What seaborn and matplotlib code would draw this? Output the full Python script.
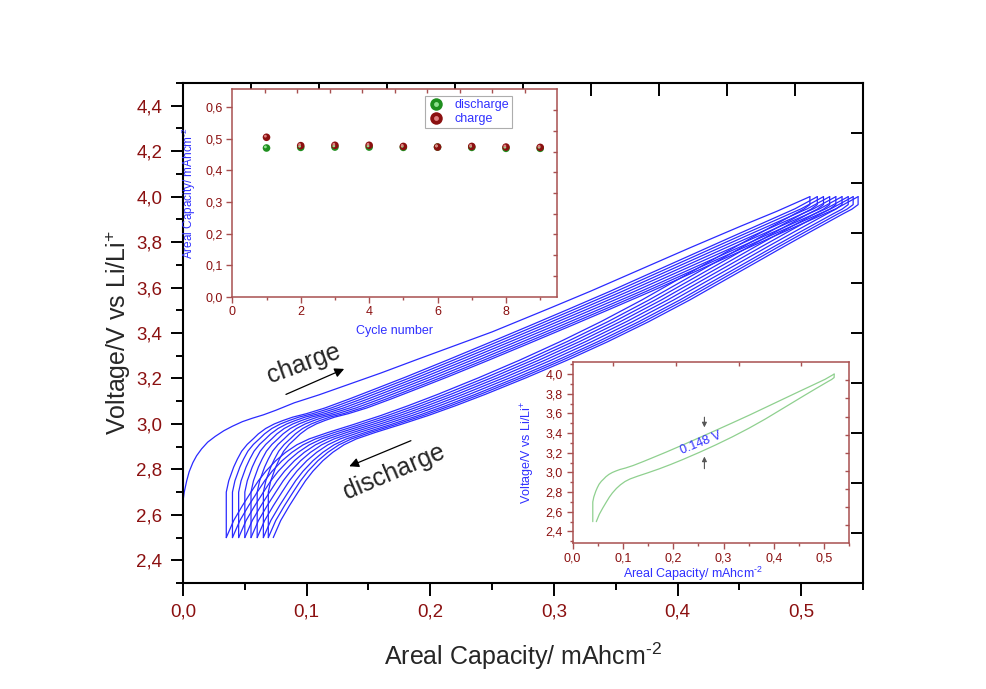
import numpy as np
import pandas as pd
import matplotlib
matplotlib.use("Agg")
import matplotlib.pyplot as plt
from matplotlib.ticker import FuncFormatter, MultipleLocator, FixedLocator, NullFormatter
from matplotlib.transforms import offset_copy
from matplotlib.legend_handler import HandlerTuple
import seaborn as sns

# ---------------- data ----------------
# cycle 1 charge (main plot), capacity / voltage
cyc1_cap = [0.000, 0.001, 0.003, 0.005, 0.008, 0.011, 0.015, 0.020, 0.026, 0.033, 0.040,
            0.048, 0.056, 0.065, 0.075, 0.090, 0.110, 0.135, 0.160, 0.190, 0.216, 0.250,
            0.297, 0.330, 0.370, 0.410, 0.451, 0.480, 0.507]
cyc1_volt = [2.66, 2.70, 2.75, 2.79, 2.83, 2.86, 2.89, 2.92, 2.945, 2.97, 2.99,
             3.01, 3.025, 3.04, 3.06, 3.093, 3.128, 3.176, 3.224, 3.285, 3.337, 3.405,
             3.51, 3.585, 3.68, 3.775, 3.87, 3.935, 4.00]

# charge curve shape (capacity from start of charge, cycles 2-9)
chg_cap = [0.000, 0.000, 0.002, 0.004, 0.006, 0.009, 0.0125, 0.017, 0.022, 0.026, 0.032,
           0.039, 0.046, 0.054, 0.065, 0.080, 0.100, 0.120, 0.146, 0.180, 0.212, 0.245,
           0.278, 0.311, 0.344, 0.377, 0.410, 0.440, 0.462, 0.480]
chg_volt = [2.50, 2.70, 2.75, 2.78, 2.81, 2.845, 2.88, 2.91, 2.935, 2.956, 2.98,
            3.00, 3.015, 3.03, 3.045, 3.07, 3.11, 3.152, 3.207, 3.282, 3.354, 3.429,
            3.505, 3.582, 3.662, 3.742, 3.822, 3.894, 3.947, 4.00]

# discharge curve shape (capacity removed from top of charge)
dis_cap = [0.000, 0.000, 0.005, 0.012, 0.022, 0.037, 0.060, 0.080, 0.103, 0.136, 0.169,
           0.202, 0.235, 0.268, 0.301, 0.325, 0.347, 0.370, 0.390, 0.405, 0.415, 0.424,
           0.432, 0.440, 0.446, 0.452, 0.459, 0.466, 0.472]
dis_volt = [4.00, 3.965, 3.945, 3.925, 3.895, 3.85, 3.78, 3.718, 3.647, 3.545, 3.45,
            3.362, 3.28, 3.203, 3.13, 3.08, 3.037, 2.996, 2.962, 2.934, 2.908, 2.875,
            2.838, 2.792, 2.75, 2.70, 2.64, 2.575, 2.50]

# per-cycle positions on the capacity axis
charge_start = [0.000, 0.035, 0.040, 0.045, 0.050, 0.055, 0.060, 0.065, 0.069]
charge_top = [0.507, 0.513, 0.518, 0.523, 0.528, 0.533, 0.538, 0.542, 0.546]
discharge_end = [0.035, 0.040, 0.045, 0.050, 0.055, 0.060, 0.065, 0.069, 0.073]

# inset: capacity vs cycle number
cycles = [1, 2, 3, 4, 5, 6, 7, 8, 9]
cap_charge = [0.505, 0.4785, 0.4796, 0.4796, 0.476, 0.474, 0.476, 0.474, 0.473]
cap_discharge = [0.471, 0.473, 0.474, 0.474, 0.473, 0.474, 0.473, 0.470, 0.470]

# inset: single cycle
single_start, single_top, single_end = 0.040, 0.520, 0.047

# ---------------- style ----------------
sns.set_style("ticks")
plt.rcParams["font.family"] = ["Liberation Sans", "DejaVu Sans"]
plt.rcParams["mathtext.fontset"] = "custom"
plt.rcParams["mathtext.rm"] = "Liberation Sans"
plt.rcParams["mathtext.default"] = "regular"

BLUE = "#2a2aff"
TICKRED = "#8b1010"
SPINERED = "#a85050"
LABELBLUE = "#3030ff"
SUP2 = "$^{\u2010 2}$"

comma1 = FuncFormatter(lambda v, p: f"{v:.1f}".replace(".", ","))


def mirror_ticks(a, xpos, ypos, color, length, width):
    sx = a.secondary_xaxis("top")
    sx.xaxis.set_major_locator(FixedLocator(xpos))
    sx.xaxis.set_major_formatter(NullFormatter())
    sx.tick_params(direction="in", length=length, width=width, color=color)
    sx.spines["top"].set_visible(False)
    sy = a.secondary_yaxis("right")
    sy.yaxis.set_major_locator(FixedLocator(ypos))
    sy.yaxis.set_major_formatter(NullFormatter())
    sy.tick_params(direction="in", length=length, width=width, color=color)
    sy.spines["right"].set_visible(False)


def build_cycle_frame():
    rows = []
    cid = 0
    for i in range(len(charge_start)):
        s, t, e = charge_start[i], charge_top[i], discharge_end[i]
        if i == 0:
            xs, vs = cyc1_cap, cyc1_volt
        else:
            sc = (t - s) / chg_cap[-1]
            xs = [s + q * sc for q in chg_cap]
            vs = chg_volt
        for x, v in zip(xs, vs):
            rows.append((cid, x, v))
        cid += 1
        sc = (t - e) / dis_cap[-1]
        for d, v in zip(dis_cap, dis_volt):
            rows.append((cid, t - d * sc, v))
        cid += 1
    return pd.DataFrame(rows, columns=["curve", "cap", "volt"])


fig = plt.figure(figsize=(9.86, 6.89), dpi=100)
fig.patch.set_facecolor("white")

# ---------------- main axes ----------------
ax = fig.add_axes([0.1856, 0.1538, 0.6897, 0.7257])
df = build_cycle_frame()
sns.lineplot(data=df, x="cap", y="volt", units="curve", estimator=None, sort=False,
             color=BLUE, lw=0.9, ax=ax, legend=False)
ax.set_xlim(0, 0.55)
ax.set_ylim(2.3, 4.5)
ax.xaxis.set_major_locator(MultipleLocator(0.1))
ax.xaxis.set_minor_locator(MultipleLocator(0.05))
ax.yaxis.set_major_locator(FixedLocator(np.arange(2.4, 4.41, 0.2)))
ax.yaxis.set_minor_locator(MultipleLocator(0.1))
ax.xaxis.set_major_formatter(comma1)
ax.yaxis.set_major_formatter(comma1)
for sp in ax.spines.values():
    sp.set_color("black")
    sp.set_linewidth(1.5)
ax.tick_params(which="major", direction="out", length=9, width=1.4, color="black",
               labelsize=13.5, labelcolor=TICKRED, pad=6)
ax.tick_params(which="minor", direction="out", length=5, width=1.4, color="black")
mirror_ticks(ax, np.linspace(0, 0.55, 11), np.linspace(2.3, 4.5, 11), "black", 9, 1.4)
ax.set_xlabel("Areal Capacity/ mAhcm" + SUP2, fontsize=18, labelpad=14)
ax.set_ylabel("Voltage/V vs Li/Li$^{+}$", fontsize=18, labelpad=2)

# annotations
ax.text(0.098, 3.266, "charge", rotation=20, fontsize=18, ha="center", va="center")
ax.annotate("", xy=(0.1324, 3.247), xytext=(0.0812, 3.125),
            arrowprops=dict(arrowstyle="-|>", color="black", lw=0.9, mutation_scale=14))
ax.text(0.1707, 2.79, "discharge", rotation=23, fontsize=18, ha="center", va="center")
ax.annotate("", xy=(0.1324, 2.809), xytext=(0.1864, 2.931),
            arrowprops=dict(arrowstyle="-|>", color="black", lw=0.9, mutation_scale=14))

# ---------------- inset 1: capacity vs cycle ----------------
ax1 = fig.add_axes([0.2356, 0.5694, 0.3296, 0.301])
dfc = pd.DataFrame({
    "cycle": cycles + cycles,
    "capacity": cap_discharge + cap_charge,
    "kind": ["discharge"] * len(cycles) + ["charge"] * len(cycles),
})
pal = {"discharge": "#1f8f1f", "charge": "#8b1010"}
hil = {"discharge": "#8fe08f", "charge": "#e08080"}
sns.scatterplot(data=dfc, x="cycle", y="capacity", hue="kind", palette=pal, s=30,
                edgecolor="none", ax=ax1, legend=False)
hl_tr = offset_copy(ax1.transData, fig=fig, x=-0.8, y=0.8, units="points")
for kind in ["discharge", "charge"]:
    sub = dfc[dfc["kind"] == kind]
    ax1.scatter(sub["cycle"], sub["capacity"], s=4, color=hil[kind], edgecolor="none",
                transform=hl_tr, zorder=3)
ax1.set_xlim(0, 9.5)
ax1.set_ylim(0, 0.657)
ax1.xaxis.set_major_locator(MultipleLocator(2))
ax1.xaxis.set_minor_locator(MultipleLocator(1))
ax1.yaxis.set_major_locator(MultipleLocator(0.1))
ax1.xaxis.set_major_formatter(FuncFormatter(lambda v, p: f"{int(v)}"))
ax1.yaxis.set_major_formatter(comma1)
for sp in ax1.spines.values():
    sp.set_color(SPINERED)
    sp.set_linewidth(1.1)
ax1.tick_params(which="major", direction="out", length=4, width=1, color=SPINERED,
                labelsize=9, labelcolor=TICKRED, pad=3)
ax1.tick_params(which="minor", direction="out", length=2.5, width=1, color=SPINERED)
mirror_ticks(ax1, np.linspace(0, 9.5, 11)[1:-1], np.linspace(0, 0.657, 11)[1:-1],
             SPINERED, 3, 1)
ax1.set_xlabel("Cycle number", fontsize=9, color=LABELBLUE, labelpad=5)
ax1.set_ylabel("Areal Capacity/ mAhcm" + SUP2, fontsize=8.5, color=LABELBLUE, labelpad=5)
h1 = (plt.Line2D([], [], ls="none", marker="o", ms=9, mfc=pal["discharge"], mec="none"),
      plt.Line2D([], [], ls="none", marker="o", ms=3.5, mfc=hil["discharge"], mec="none"))
h2 = (plt.Line2D([], [], ls="none", marker="o", ms=9, mfc=pal["charge"], mec="none"),
      plt.Line2D([], [], ls="none", marker="o", ms=3.5, mfc=hil["charge"], mec="none"))
leg = ax1.legend([h1, h2], ["discharge", "charge"], loc="upper right",
                 bbox_to_anchor=(0.861, 0.968), borderaxespad=0, fontsize=9,
                 frameon=True, fancybox=False, edgecolor="#999999",
                 handlelength=1.2, handletextpad=0.9, borderpad=0.25, labelspacing=0.15,
                 handler_map={tuple: HandlerTuple(ndivide=1, pad=0)})
leg.get_frame().set_linewidth(0.8)
for t in leg.get_texts():
    t.set_color(LABELBLUE)

# ---------------- inset 2: single cycle ----------------
ax2 = fig.add_axes([0.5808, 0.2115, 0.2805, 0.2627])
rows = []
sc = (single_top - single_start) / chg_cap[-1]
for q, v in zip(chg_cap, chg_volt):
    rows.append(("charge", single_start + q * sc, v))
sc = (single_top - single_end) / dis_cap[-1]
for d, v in zip(dis_cap, dis_volt):
    rows.append(("discharge", single_top - d * sc, v))
dfs = pd.DataFrame(rows, columns=["seg", "cap", "volt"])
sns.lineplot(data=dfs, x="cap", y="volt", units="seg", estimator=None, sort=False,
             color="#8fd08f", lw=0.9, ax=ax2, legend=False)
ax2.set_xlim(0, 0.55)
ax2.set_ylim(2.28, 4.12)
ax2.xaxis.set_major_locator(MultipleLocator(0.1))
ax2.xaxis.set_minor_locator(MultipleLocator(0.05))
ax2.yaxis.set_major_locator(FixedLocator(np.arange(2.4, 4.01, 0.2)))
ax2.yaxis.set_minor_locator(MultipleLocator(0.1))
ax2.xaxis.set_major_formatter(comma1)
ax2.yaxis.set_major_formatter(comma1)
for sp in ax2.spines.values():
    sp.set_color(SPINERED)
    sp.set_linewidth(1.1)
ax2.tick_params(which="major", direction="out", length=4, width=1, color=SPINERED,
                labelsize=9, labelcolor=TICKRED, pad=3)
ax2.tick_params(which="minor", direction="out", length=2.5, width=1, color=SPINERED)
mirror_ticks(ax2, [0.08, 0.205, 0.33, 0.455], np.linspace(2.28, 4.12, 11)[1:-1],
             SPINERED, 3, 1)
ax2.set_xlabel("Areal Capacity/ mAhcm" + SUP2, fontsize=9, color=LABELBLUE)
ax2.xaxis.set_label_coords(0.435, -0.118)
ax2.set_ylabel("Voltage/V vs Li/Li$^{+}$", fontsize=9, color=LABELBLUE, labelpad=6)
ax2.text(0.2556, 3.298, "0.148 V", rotation=22, fontsize=9, color=LABELBLUE,
         ha="center", va="center")
ax2.annotate("", xy=(0.262, 3.43), xytext=(0.262, 3.59),
             arrowprops=dict(arrowstyle="-|>", color="#555555", lw=0.8, mutation_scale=7))
ax2.annotate("", xy=(0.262, 3.19), xytext=(0.262, 3.01),
             arrowprops=dict(arrowstyle="-|>", color="#555555", lw=0.8, mutation_scale=7))

fig.savefig("out.png", dpi=100, facecolor="white")
